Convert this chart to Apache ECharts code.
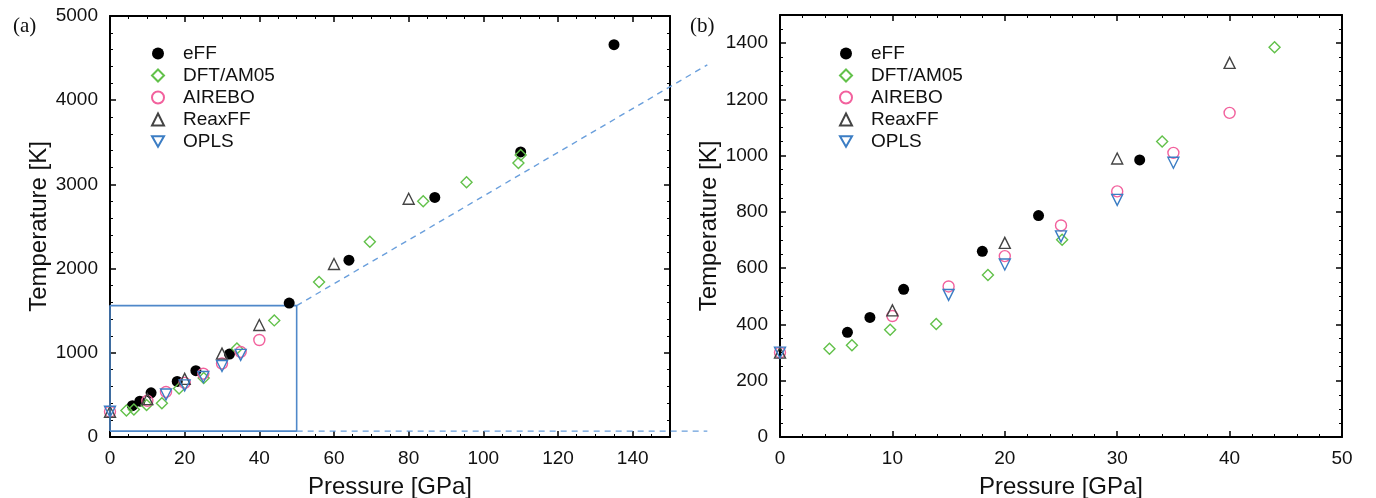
<!DOCTYPE html>
<html>
<head>
<meta charset="utf-8">
<title>Temperature vs Pressure</title>
<script src="https://cdn.jsdelivr.net/npm/echarts@6/dist/echarts.min.js"></script>
<style>
  html, body { margin: 0; padding: 0; background: #fff; }
  #chart { width: 1376px; height: 498px; }
</style>
</head>
<body>
<div id="chart"></div>
<script>
// Shock temperature [K] against pressure [GPa] for each method: [pressure, temperature]
const eFF = [[6, 372], [8, 425], [11, 525], [18, 660], [23, 787], [32, 985], [48, 1590], [64, 2100], [87, 2845], [110, 3385], [135, 4660]];
const dftAM05 = [[4.4, 314], [6.4, 326], [9.8, 381], [13.9, 402], [18.5, 576], [25.1, 701], [34, 1050], [44, 1385], [56, 1840], [69.6, 2318], [83.9, 2800], [95.5, 3026], [109.4, 3255], [110, 3350]];
const airebo = [[0, 300], [10, 430], [15, 535], [20, 643], [25, 752], [30, 873], [35, 1010], [40, 1152]];
const reaxFF = [[0, 300], [10, 450], [20, 690], [30, 990], [40, 1330], [60, 2055], [80, 2830]];
const opls = [[0, 300], [15, 505], [20, 613], [25, 713], [30, 843], [35, 975]];

const seriesNames = ['eFF', 'DFT/AM05', 'AIREBO', 'ReaxFF', 'OPLS'];

// Zoomed window shown in panel (b): pressure 0–50 GPa, temperature up to 1500 K
const zoomBox = { pMin: 0, pMax: 50, tMin: 70, tMax: 1560 };
const zoomRange = { pMax: 50, tMax: 1500 };
// Guide lines leading from the box towards panel (b), in panel (a) data units
const guideUpper = [[50, 1560], [160, 4420]];
const guideLower = [[50, 70], [160, 70]];
const guideXMax = 160;

// Axis tick settings
const axisA = { xMax: 150, xStep: 20, yMax: 5000, yStep: 1000 };
const axisB = { xMax: 50, xStep: 10, yMax: 1500, yStep: 200 };

const FONT = 'Liberation Sans, Arial, Helvetica, sans-serif';
const INK = '#111';
const DOWN_TRIANGLE = 'path://M0,0L10,0L5,8.66Z';

const styles = {
  'eFF':      { symbol: 'circle',   size: 11, rotate: 0,   itemStyle: { color: '#000', borderColor: '#000', borderWidth: 0, opacity: 1 } },
  'DFT/AM05': { symbol: 'diamond',  size: 11, rotate: 0,   itemStyle: { color: 'rgba(0,0,0,0)', borderColor: '#62c14a', borderWidth: 1.4, opacity: 1 } },
  'AIREBO':   { symbol: 'circle',   size: 11, rotate: 0,   itemStyle: { color: 'rgba(0,0,0,0)', borderColor: '#f2619d', borderWidth: 1.4, opacity: 1 } },
  'ReaxFF':   { symbol: 'triangle', size: 11, rotate: 0,   itemStyle: { color: 'rgba(0,0,0,0)', borderColor: '#444',    borderWidth: 1.4, opacity: 1 } },
  'OPLS':     { symbol: 'triangle', size: 11, rotate: 180, itemStyle: { color: 'rgba(0,0,0,0)', borderColor: '#3b7dc4', borderWidth: 1.4, opacity: 1 } }
};
const dataByName = { 'eFF': eFF, 'DFT/AM05': dftAM05, 'AIREBO': airebo, 'ReaxFF': reaxFF, 'OPLS': opls };

function plain(v) { return String(v); }

function frameAxis(gridIndex, position, min, max, step, minorSplit, showLabels, hideMax, extra) {
  const ax = {
    type: 'value', gridIndex: gridIndex, position: position,
    min: min, max: max, interval: step,
    axisLine: { show: true, onZero: false, lineStyle: { color: '#000', width: 2 } },
    axisTick: { show: true, inside: true, length: 6, lineStyle: { color: '#000', width: 1.5 } },
    minorTick: { show: true, splitNumber: minorSplit, length: 3, lineStyle: { color: '#000', width: 1 } },
    splitLine: { show: false },
    axisLabel: {
      show: showLabels, margin: 12, showMaxLabel: !hideMax, formatter: plain,
      color: INK, fontSize: 19, fontFamily: FONT
    }
  };
  return Object.assign(ax, extra || {});
}

const xName = {
  name: 'Pressure [GPa]', nameLocation: 'middle', nameGap: 38,
  nameTextStyle: { fontSize: 24, fontFamily: FONT, color: INK }
};
const yName = {
  name: 'Temperature [K]', nameLocation: 'middle', nameGap: 54,
  nameTextStyle: { fontSize: 24, fontFamily: FONT, color: INK }
};

const hiddenAxis = function (gridIndex, max) {
  return { type: 'value', gridIndex: gridIndex, min: 0, max: max, show: false, splitLine: { show: false } };
};

const xAxes = [
  frameAxis(0, 'bottom', 0, axisA.xMax, axisA.xStep, 4, true, true, xName),
  frameAxis(0, 'top', 0, axisA.xMax, axisA.xStep, 4, false, true),
  frameAxis(1, 'bottom', 0, axisB.xMax, axisB.xStep, 5, true, false, xName),
  frameAxis(1, 'top', 0, axisB.xMax, axisB.xStep, 5, false, false),
  hiddenAxis(2, guideXMax)
];
const yAxes = [
  frameAxis(0, 'left', 0, axisA.yMax, axisA.yStep, 5, true, false, yName),
  frameAxis(0, 'right', 0, axisA.yMax, axisA.yStep, 5, false, false),
  frameAxis(1, 'left', 0, axisB.yMax, axisB.yStep, 4, true, true, yName),
  frameAxis(1, 'right', 0, axisB.yMax, axisB.yStep, 4, false, true),
  hiddenAxis(2, axisA.yMax)
];

const series = [];
// Zoom box on panel (a)
series.push({
  type: 'line', xAxisIndex: 0, yAxisIndex: 0, silent: true, symbol: 'none', z: 1,
  data: [[zoomBox.pMin, zoomBox.tMin], [zoomBox.pMax, zoomBox.tMin], [zoomBox.pMax, zoomBox.tMax], [zoomBox.pMin, zoomBox.tMax], [zoomBox.pMin, zoomBox.tMin]],
  lineStyle: { color: '#4f88c9', width: 1.6 }
});
// Dashed guide lines, on a wider copy of panel (a)'s scale so they run past the frame
[guideUpper, guideLower].forEach(function (seg) {
  series.push({
    type: 'line', xAxisIndex: 4, yAxisIndex: 4, silent: true, symbol: 'none', z: 1,
    data: seg,
    lineStyle: { color: '#6a9fdc', width: 1.4, type: [6, 5] }
  });
});

// Scatter series for both panels
seriesNames.forEach(function (name) {
  const st = styles[name];
  const base = {
    type: 'scatter', name: name, symbol: st.symbol, symbolSize: st.size, symbolRotate: st.rotate,
    itemStyle: st.itemStyle, z: 3
  };
  series.push(Object.assign({}, base, { xAxisIndex: 0, yAxisIndex: 0, data: dataByName[name] }));
  series.push(Object.assign({}, base, {
    xAxisIndex: 2, yAxisIndex: 2,
    data: dataByName[name].filter(function (d) { return d[0] <= zoomRange.pMax && d[1] <= zoomRange.tMax; })
  }));
});

function legendAt(left) {
  return {
    data: seriesNames.map(function (n) { return n === 'OPLS' ? { name: n, icon: DOWN_TRIANGLE } : { name: n }; }),
    orient: 'vertical', left: left, top: 39,
    itemWidth: 12, itemHeight: 12, itemGap: 3, selectedMode: false,
    textStyle: { fontSize: 19, fontFamily: FONT, color: INK, lineHeight: 19, padding: [0, 0, 0, 14] }
  };
}

const gridBase = { outerBoundsMode: 'none', containLabel: false };
const plotA = { left: 110, top: 16, height: 421, width: 560 };

const option = {
  backgroundColor: '#fff',
  animation: false,
  title: [
    { text: '(a)', left: 8, top: 11, textStyle: { fontFamily: 'Liberation Serif, Times New Roman, serif', fontWeight: 'normal', fontSize: 21, color: INK } },
    { text: '(b)', left: 685, top: 11, textStyle: { fontFamily: 'Liberation Serif, Times New Roman, serif', fontWeight: 'normal', fontSize: 21, color: INK } }
  ],
  grid: [
    Object.assign({}, gridBase, plotA),
    Object.assign({}, gridBase, { left: 780, top: 15, width: 562, height: 422 }),
    // same scale as panel (a), extended to the guide end point
    Object.assign({}, gridBase, { left: plotA.left, top: plotA.top, height: plotA.height, width: plotA.width * guideXMax / axisA.xMax })
  ],
  legend: [legendAt(146), legendAt(834)],
  xAxis: xAxes,
  yAxis: yAxes,
  series: series
};

const chart = echarts.init(document.getElementById('chart'), null, { renderer: 'canvas' });
chart.setOption(option);
</script>
</body>
</html>
